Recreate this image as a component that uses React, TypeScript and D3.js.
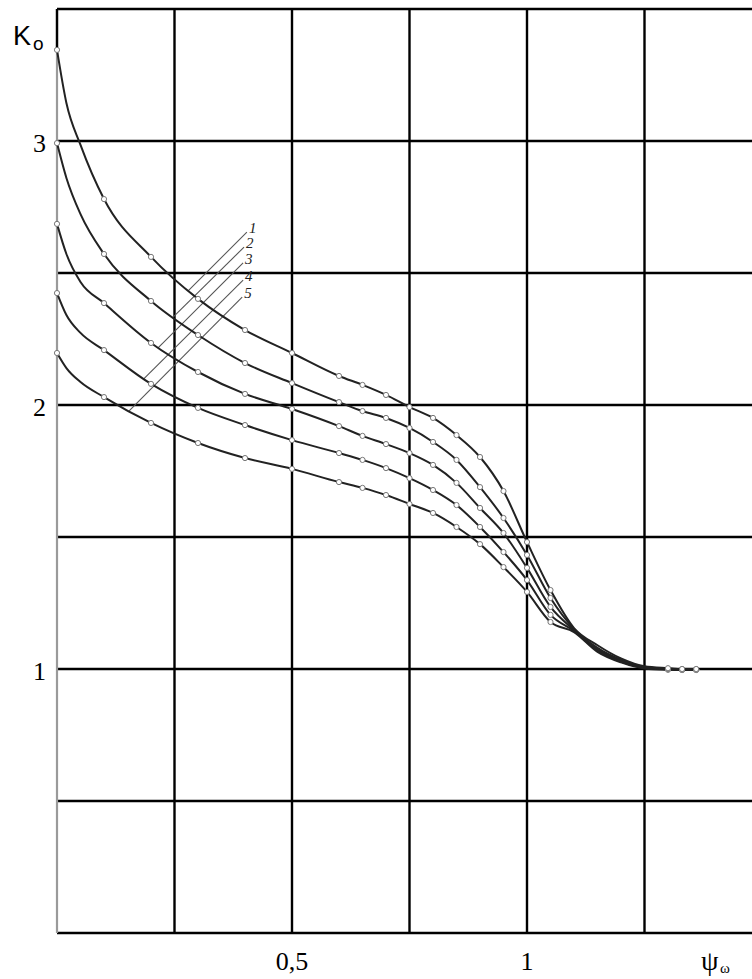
import React from "react";
import * as d3 from "d3";

// ψω values (x) shared by all curves
const psi = [0, 0.02, 0.05, 0.1, 0.2, 0.3, 0.4, 0.5, 0.6, 0.65, 0.7, 0.75, 0.8, 0.85, 0.9, 0.95, 1.0, 1.05, 1.1, 1.15, 1.2, 1.25, 1.3, 1.33, 1.36];
// points read off the curves where the original has no marker
const unmarkedPsi = [0.02, 0.05, 1.1, 1.15, 1.2, 1.25];

// Ko values for curves 1..5
const k1 = [3.345, 3.144, 2.985, 2.78, 2.561, 2.402, 2.284, 2.197, 2.11, 2.076, 2.038, 1.992, 1.951, 1.886, 1.803, 1.674, 1.481, 1.299, 1.155, 1.09, 1.04, 1.01, 1.003, 1.0, 1.0];
const k2 = [2.992, 2.86, 2.723, 2.572, 2.394, 2.265, 2.159, 2.083, 2.011, 1.977, 1.951, 1.913, 1.86, 1.792, 1.689, 1.572, 1.432, 1.269, 1.152, 1.08, 1.035, 1.008, 1.001, 0.999, 0.999];
const k3 = [2.686, 2.572, 2.466, 2.386, 2.235, 2.125, 2.042, 1.985, 1.92, 1.883, 1.852, 1.818, 1.773, 1.705, 1.61, 1.515, 1.383, 1.235, 1.148, 1.075, 1.03, 1.006, 1.0, 0.998, 0.998];
const k4 = [2.424, 2.341, 2.273, 2.208, 2.08, 1.989, 1.924, 1.867, 1.818, 1.792, 1.761, 1.723, 1.678, 1.621, 1.538, 1.443, 1.337, 1.205, 1.144, 1.07, 1.028, 1.004, 0.999, 0.997, 0.997];
const k5 = [2.197, 2.14, 2.087, 2.03, 1.932, 1.856, 1.799, 1.758, 1.708, 1.686, 1.659, 1.625, 1.591, 1.538, 1.473, 1.386, 1.292, 1.178, 1.14, 1.065, 1.025, 1.002, 0.997, 0.996, 0.996];
const series = [k1, k2, k3, k4, k5];

// grid / tick values
const xGrid = [0.25, 0.5, 0.75, 1, 1.25];
const yGrid = [0.5, 1, 1.5, 2, 2.5, 3, 3.5];
const xTickValues = [0.5, 1];
const xTickLabels = ["0,5", "1"];
const yTickValues = [1, 2, 3];
const yTickLabels = ["1", "2", "3"];

// curve number leaders
const leaderNames = ["1", "2", "3", "4", "5"];
const leaderFromPsi = [0.279, 0.247, 0.215, 0.184, 0.153];
const leaderFromK = [2.432, 2.333, 2.216, 2.098, 1.977];
const leaderToPsi = [0.404, 0.398, 0.396, 0.396, 0.394];
const leaderToK = [2.655, 2.598, 2.538, 2.473, 2.409];

const W = 752;
const H = 979;

export default function App() {
  const x = d3.scaleLinear().domain([0, 1.5]).range([57, 762]);
  const y = d3.scaleLinear().domain([0, 3.5]).range([933, 9]);
  const line = d3
    .line<number>()
    .x((_, i) => x(psi[i]))
    .y((d) => y(d))
    .curve(d3.curveMonotoneX);

  const serif = "'Liberation Serif', 'Times New Roman', serif";
  const sans = "'Liberation Sans', Arial, sans-serif";
  const showMarker = (p: number) => !unmarkedPsi.includes(p);

  return (
    <svg
      width={W}
      height={H}
      viewBox={`0 0 ${W} ${H}`}
      style={{ position: "absolute", left: 0, top: 0, background: "#fff" }}
    >
      <rect x={0} y={0} width={W} height={H} fill="#fff" />
      {/* horizontal grid */}
      {yGrid.map((v) => (
        <line key={"h" + v} x1={x(0)} x2={W} y1={y(v)} y2={y(v)} stroke="#000" strokeWidth={2.4} />
      ))}
      {/* vertical grid */}
      {xGrid.map((v) => (
        <line key={"v" + v} x1={x(v)} x2={x(v)} y1={y(3.5)} y2={y(0)} stroke="#000" strokeWidth={2.4} />
      ))}
      {/* bottom axis */}
      <line x1={x(0)} x2={W} y1={y(0)} y2={y(0)} stroke="#000" strokeWidth={2.4} />
      {/* left axis (gray) */}
      <line x1={x(0)} x2={x(0)} y1={y(3.5)} y2={y(0)} stroke="#9a9a9a" strokeWidth={2.2} />
      <line x1={x(0)} x2={x(0)} y1={y(3.5)} y2={y(k1[0])} stroke="#000" strokeWidth={2.4} />

      {/* leaders */}
      {leaderNames.map((n, i) => (
        <g key={"l" + n}>
          <line
            x1={x(leaderFromPsi[i])}
            y1={y(leaderFromK[i])}
            x2={x(leaderToPsi[i])}
            y2={y(leaderToK[i])}
            stroke="#555"
            strokeWidth={1.1}
          />
          <text
            x={x(leaderToPsi[i]) + 2}
            y={y(leaderToK[i]) + 1}
            fontFamily={serif}
            fontStyle="italic"
            fontSize={15}
            fill="#222"
          >
            {n}
          </text>
        </g>
      ))}

      {/* curves */}
      {series
        .map((s, si) => ({ s, si }))
        .reverse()
        .map(({ s, si }) => (
          <g key={"c" + si}>
            <path d={line(s) || ""} fill="none" stroke="#222" strokeWidth={2} />
            {s.map((v, i) =>
              showMarker(psi[i]) ? (
                <circle
                  key={i}
                  cx={x(psi[i])}
                  cy={y(v)}
                  r={2.6}
                  fill="#fff"
                  stroke="#777"
                  strokeWidth={1}
                />
              ) : null
            )}
          </g>
        ))}

      {/* y tick labels */}
      {yTickValues.map((v, i) => (
        <text key={"yt" + v} x={46} y={y(v) + 11} textAnchor="end" fontFamily={serif} fontSize={26} fill="#000">
          {yTickLabels[i]}
        </text>
      ))}
      {/* x tick labels */}
      {xTickValues.map((v, i) => (
        <text key={"xt" + v} x={x(v)} y={970} textAnchor="middle" fontFamily={serif} fontSize={26} fill="#000">
          {xTickLabels[i]}
        </text>
      ))}
      {/* axis titles */}
      <text x={13} y={45} fontFamily={sans} fontSize={27} fill="#000">
        K
      </text>
      <text x={33} y={50} fontFamily={sans} fontSize={19} fill="#000">
        o
      </text>
      <text x={701} y={970} fontFamily={serif} fontSize={28} fill="#000">
        ψ
      </text>
      <text x={720} y={973} fontFamily={serif} fontSize={15} fill="#000">
        ω
      </text>
    </svg>
  );
}
